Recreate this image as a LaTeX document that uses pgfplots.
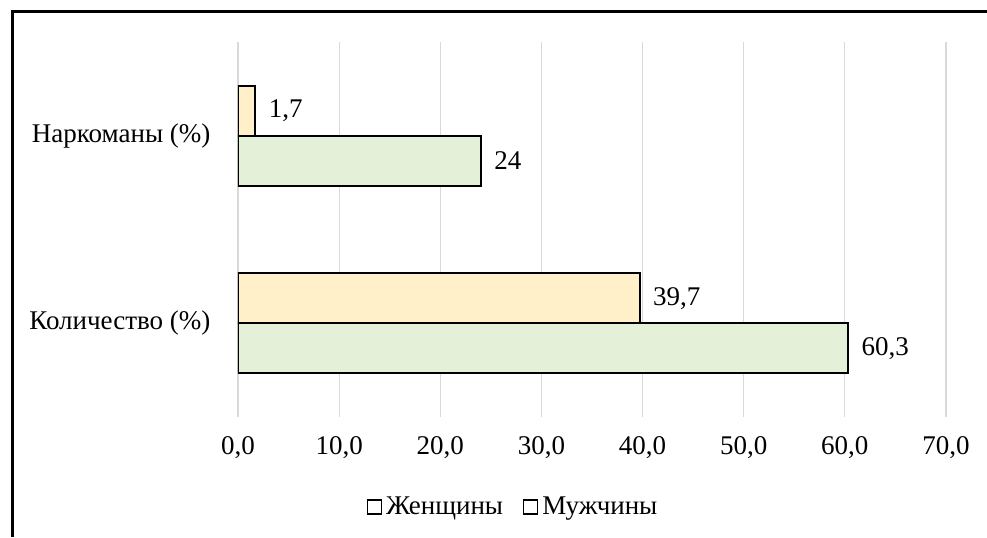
\documentclass[border=0pt]{standalone}
\usepackage{fontspec}
\setmainfont{Liberation Serif}
\usepackage{pgfplots}
\pgfplotsset{compat=1.18}
\definecolor{fem}{HTML}{FFF0C9}
\definecolor{mal}{HTML}{E4F1D8}
\begin{document}
\begin{tikzpicture}[font=\fontsize{13.5}{16}\selectfont]
\path[use as bounding box] (0,0) rectangle (493.5pt,268.5pt);
\draw[line width=1.5pt] (6pt,0) -- (6pt,262.5pt) -- (493.5pt,262.5pt);
\begin{axis}[
  at={(119pt,60pt)}, anchor=south west,
  scale only axis, width=354pt, height=187.5pt,
  xbar, bar width=25pt,
  xmin=0, xmax=70, ymin=-0.5, ymax=1.5,
  xtick={0,10,...,70},
  ytick={0,1}, yticklabels={Количество (\%), Наркоманы (\%)},
  xmajorgrids, major grid style={draw=black!15, line width=0.6pt},
  axis line style={draw=none}, tick style={draw=none},
  xticklabel style={/pgf/number format/.cd, fixed, fixed zerofill, precision=1, use comma, assume math mode=true, /tikz/.cd, yshift=-6pt},
  yticklabel style={xshift=-6pt},
  nodes near coords, point meta=explicit symbolic,
  nodes near coords style={anchor=west, xshift=3pt},
  legend style={at={(0.39,-0.24)}, anchor=center, draw=none, fill=none, legend columns=2,
    font=\fontsize{13.5}{16}\selectfont,
    /tikz/every even column/.append style={column sep=8pt}},
  legend image code/.code={\draw[draw=black, fill=white, line width=0.6pt] (0pt,-3.5pt) rectangle (7pt,3.5pt);},
]
\addplot[fill=fem, draw=black, line width=1pt, bar shift=12.5pt] coordinates {(39.7,0) [39,7] (1.7,1) [1,7]};
\addplot[fill=mal, draw=black, line width=1pt, bar shift=-12.5pt] coordinates {(60.3,0) [60,3] (24,1) [24]};
\legend{Женщины, Мужчины}
\end{axis}
\end{tikzpicture}
\end{document}
